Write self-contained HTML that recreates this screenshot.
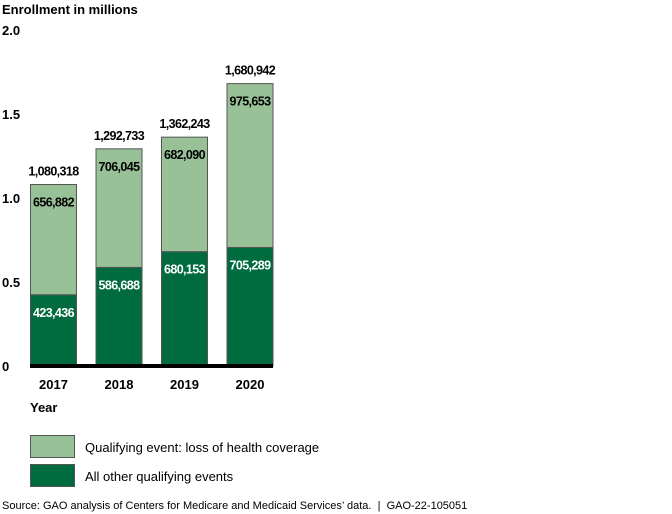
<!DOCTYPE html>
<html><head><meta charset="utf-8"><style>
body{margin:0;background:#fff;}
svg{display:block;font-family:"Liberation Sans",Arial,sans-serif;}
</style></head><body>
<svg width="672" height="514" viewBox="0 0 672 514">
<text x="2" y="14" font-size="13" font-weight="bold">Enrollment in millions</text>
<g id="yaxis"></g>
<g id="bars"></g>
<rect x="30" y="364" width="243" height="4" fill="#000"/>
<g id="xaxis"></g>
<text x="30" y="412" font-size="13" font-weight="bold">Year</text>
<rect x="30.5" y="435.5" width="44" height="22" fill="#98c197" stroke="#555"/>
<text x="85" y="452" font-size="13">Qualifying event: loss of health coverage</text>
<rect x="30.5" y="464.5" width="44" height="22" fill="#006b3f" stroke="#555"/>
<text x="85" y="481" font-size="13">All other qualifying events</text>
<text x="2" y="509" font-size="11" xml:space="preserve" style="white-space:pre">Source: GAO analysis of Centers for Medicare and Medicaid Services’ data.  |  GAO-22-105051</text>
</svg>
<script>
const years = ["2017","2018","2019","2020"];
const otherEvents = [423436, 586688, 680153, 705289];
const lossCoverage = [656882, 706045, 682090, 975653];
const totals = [1080318, 1292733, 1362243, 1680942];
const yTicks = [0, 0.5, 1.0, 1.5, 2.0];
const yTickLabels = ["0","0.5","1.0","1.5","2.0"];

const NS = "http://www.w3.org/2000/svg";
const y0 = 366, pxPerM = 168;
function yScale(v){ return y0 - v / 1e6 * pxPerM; }
function yScaleM(m){ return y0 - m * pxPerM; }
function xScale(i){ return 30 + i * 65.5; }
const bw = 47;
function fmt(n){ return n.toLocaleString("en-US"); }
function mk(tag, attrs, parent){ const e=document.createElementNS(NS,tag); for(const k in attrs) e.setAttribute(k,attrs[k]); parent.appendChild(e); return e; }

const ya = document.getElementById("yaxis");
yTicks.forEach((t,i)=>{
  const e = mk("text",{x:2,y:yScaleM(t)+5,"font-size":13,"font-weight":"bold"},ya);
  e.textContent = yTickLabels[i];
  
  
});

const bars = document.getElementById("bars");
const xa = document.getElementById("xaxis");
years.forEach((yr,i)=>{
  const x = xScale(i), cx = x + bw/2;
  const yo = yScale(otherEvents[i]);
  const yt = yScale(otherEvents[i] + lossCoverage[i]);
  const r1 = mk("rect",{x:x+0.5,y:yt,width:bw-1,height:yo-yt,fill:"#98c197",stroke:"#555","stroke-width":1},bars);
  
  
  const r2 = mk("rect",{x:x+0.5,y:yo,width:bw-1,height:y0-yo,fill:"#006b3f",stroke:"#555","stroke-width":1},bars);
  
  
  const common = {"text-anchor":"middle","font-size":12.5,"font-weight":"bold","letter-spacing":"-0.6"};
  const t1 = mk("text",Object.assign({x:cx,y:yt+22,fill:"#000"},common),bars);
  t1.textContent = fmt(lossCoverage[i]);
  
  
  const t2 = mk("text",Object.assign({x:cx,y:yo+22,fill:"#fff"},common),bars);
  t2.textContent = fmt(otherEvents[i]);
  
  
  const t3 = mk("text",Object.assign({x:cx,y:yt-9,fill:"#000"},common),bars);
  t3.textContent = fmt(totals[i]);
  
  
  const xl = mk("text",{x:cx,y:389,"text-anchor":"middle","font-size":13,"font-weight":"bold"},xa);
  xl.textContent = yr;
  
  
});
</script>
</body></html>
